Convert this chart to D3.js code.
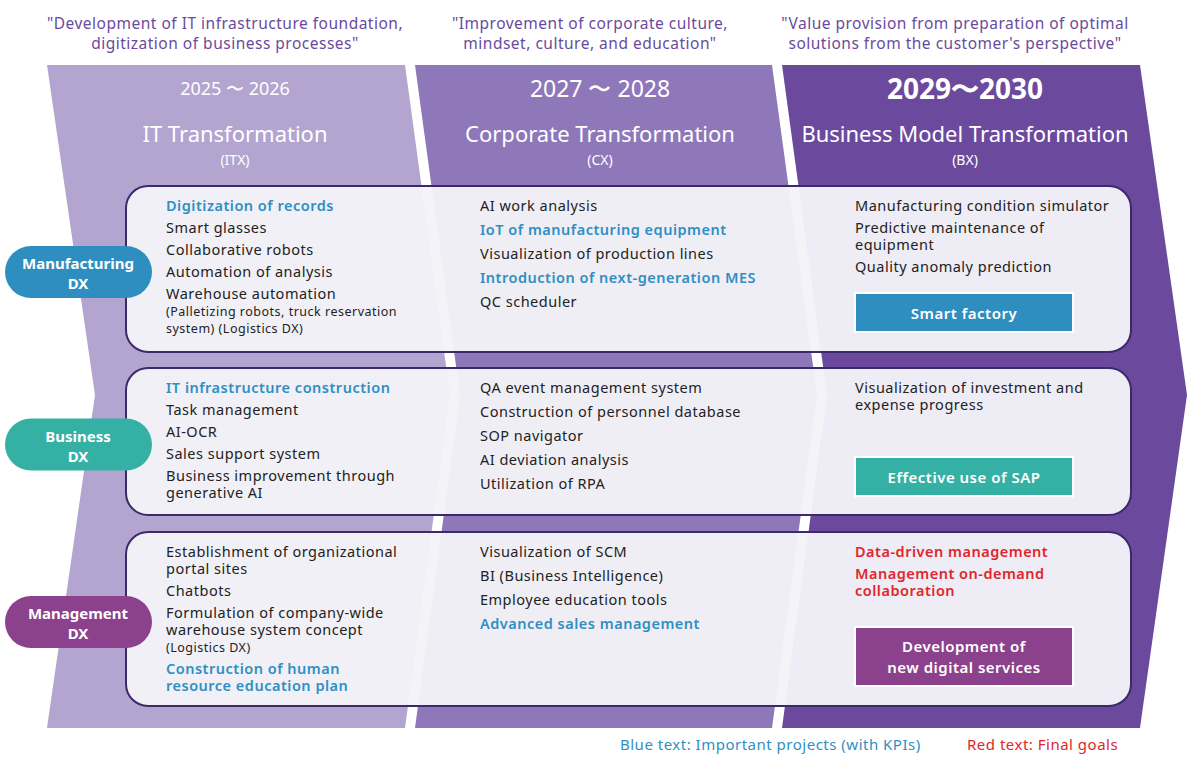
<!DOCTYPE html><html><head><meta charset="utf-8"><script src="https://cdn.jsdelivr.net/npm/d3@7"></script>
<style>body{margin:0;background:#fff}text{font-family:"Noto Sans",Roboto,sans-serif}.ls{letter-spacing:0.5px}</style></head><body><svg id="c" width="1201" height="761"></svg><script>
const phases=[{q:["\"Development of IT infrastructure foundation,","digitization of business processes\""],years:"2025 〜 2026",ys:18,t:"IT Transformation",a:"(ITX)",fill:"#b3a4d0"},
{q:["\"Improvement of corporate culture,","mindset, culture, and education\""],years:"2027 〜 2028",ys:23,t:"Corporate Transformation",a:"(CX)",fill:"#8e78b9"},
{q:["\"Value provision from preparation of optimal","solutions from the customer's perspective\""],years:"2029〜2030",ys:28,t:"Business Model Transformation",a:"(BX)",fill:"#6b4a9e"}];
const rows=[{label:["Manufacturing","DX"],color:"#2e8ec0",y0:186,y1:352},{label:["Business","DX"],color:"#35b0a4",y0:368,y1:515},{label:["Management","DX"],color:"#8b418c",y0:532,y1:706}];
const cells=[
[[["Digitization of records"],"b"],[["Smart glasses"],"n"],[["Collaborative robots"],"n"],[["Automation of analysis"],"n"],[["Warehouse automation","~(Palletizing robots, truck reservation","~system) (Logistics DX)"],"n"]],
[[["AI work analysis"],"n"],[["IoT of manufacturing equipment"],"b"],[["Visualization of production lines"],"n"],[["Introduction of next-generation MES"],"b"],[["QC scheduler"],"n"]],
[[["Manufacturing condition simulator"],"n"],[["Predictive maintenance of","equipment"],"n"],[["Quality anomaly prediction"],"n"]],
[[["IT infrastructure construction"],"b"],[["Task management"],"n"],[["AI-OCR"],"n"],[["Sales support system"],"n"],[["Business improvement through","generative AI"],"n"]],
[[["QA event management system"],"n"],[["Construction of personnel database"],"n"],[["SOP navigator"],"n"],[["AI deviation analysis"],"n"],[["Utilization of RPA"],"n"]],
[[["Visualization of investment and","expense progress"],"n"]],
[[["Establishment of organizational","portal sites"],"n"],[["Chatbots"],"n"],[["Formulation of company-wide","warehouse system concept","~(Logistics DX)"],"n"],[["Construction of human","resource education plan"],"b"]],
[[["Visualization of SCM"],"n"],[["BI (Business Intelligence)"],"n"],[["Employee education tools"],"n"],[["Advanced sales management"],"b"]],
[[["Data-driven management"],"r"],[["Management on-demand","collaboration"],"r"]]];
const goals=[{t:["Smart factory"],c:"#2e8ec0",y0:293,y1:332},{t:["Effective use of SAP"],c:"#35b0a4",y0:457,y1:496},{t:["Development of","new digital services"],c:"#8b418c",y0:627,y1:686}];
const legend=[{t:"Blue text: Important projects (with KPIs)",c:"#2f8fc4",x:620},{t:"Red text: Final goals",c:"#e0262b",x:967}];
const svg=d3.select("#c");
const colX=[166,480,855],gaps=[22,24,22],colC=[225,590,955];
const shapes=[[[47,65],[405,65],[450,395],[405,728],[47,728],[95,395]],[[415,65],[772,65],[817,395],[772,728],[415,728],[460,395]],[[782,65],[1140,65],[1187,395],[1140,728],[782,728],[827,395]]];
const line=d3.line();
phases.forEach((p,i)=>{
 svg.append("path").attr("d",line(shapes[i])+"Z").attr("fill",p.fill);
 p.q.forEach((s,j)=>svg.append("text").attr("class","ls").attr("x",colC[i]).attr("y",29+j*20).attr("text-anchor","middle").attr("font-size",15.5).attr("fill","#6a4a9e").text(s));
 const cx=colC[i]+10;
 svg.append("text").attr("x",cx).attr("y",89+p.ys*0.35).attr("text-anchor","middle").attr("font-size",p.ys).attr("font-weight",i==2?"bold":"normal").attr("fill","#fff").text(p.years);
 svg.append("text").attr("x",cx).attr("y",142).attr("text-anchor","middle").attr("font-size",22).attr("fill","#fff").text(p.t);
 svg.append("text").attr("x",cx).attr("y",165).attr("text-anchor","middle").attr("font-size",14).attr("fill","#fff").text(p.a);
});
rows.forEach((r,i)=>{
 svg.append("rect").attr("x",126).attr("y",r.y0).attr("width",1005).attr("height",r.y1-r.y0).attr("rx",22).attr("fill","#f4f2f8").attr("fill-opacity",0.96).attr("stroke","#3b2a6b").attr("stroke-width",2);
 const cy=(r.y0+r.y1)/2+3;
 svg.append("rect").attr("x",5).attr("y",cy-26).attr("width",147).attr("height",52).attr("rx",26).attr("fill",r.color);
 r.label.forEach((s,j)=>svg.append("text").attr("x",78).attr("y",cy-3+j*20).attr("text-anchor","middle").attr("font-size",15).attr("font-weight","bold").attr("fill","#fff").text(s));
 for(let c=0;c<3;c++){
  let y=r.y0+20-gaps[c];
  cells[i*3+c].forEach(([lines,st])=>{
   lines.forEach((l,k)=>{
    y+=k==0?gaps[c]:17;
    const small=l[0]=="~";
    svg.append("text").attr("class","ls").attr("x",colX[c]).attr("y",y+5).attr("font-size",small?12.5:14.5).attr("font-weight",st=="n"?"normal":"600")
     .attr("fill",st=="b"?"#2f8fc4":st=="r"?"#e0262b":"#222").text(small?l.slice(1):l);
   });
  });
 }
});
goals.forEach(g=>{
 svg.append("rect").attr("x",855).attr("y",g.y0).attr("width",218).attr("height",g.y1-g.y0).attr("fill",g.c).attr("stroke","#fff").attr("stroke-width",2);
 const n=g.t.length,m=(g.y0+g.y1)/2;
 g.t.forEach((s,j)=>svg.append("text").attr("class","ls").attr("x",964).attr("y",m+6+(j-(n-1)/2)*21).attr("text-anchor","middle").attr("font-size",15).attr("font-weight","600").attr("fill","#fff").text(s));
});
legend.forEach(l=>svg.append("text").attr("class","ls").attr("x",l.x).attr("y",750).attr("font-size",15).attr("fill",l.c).text(l.t));
</script></body></html>
